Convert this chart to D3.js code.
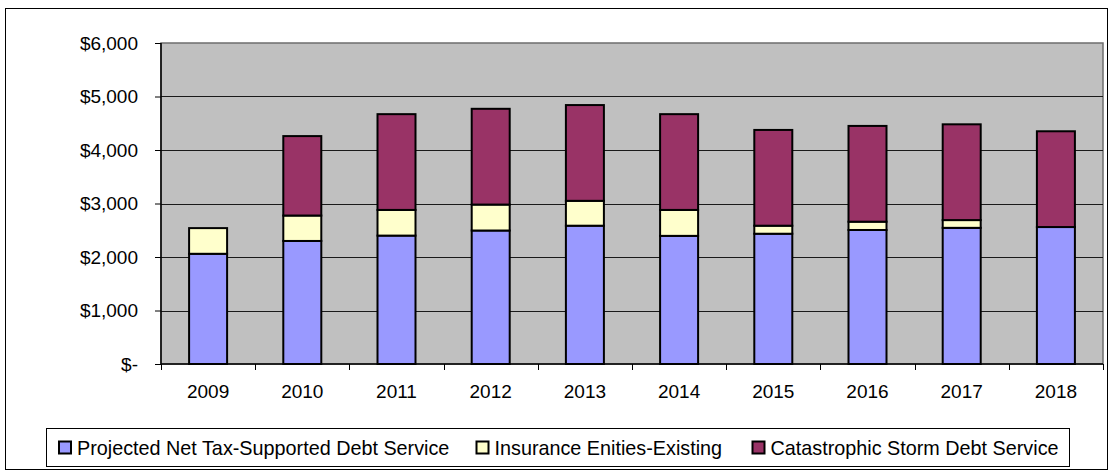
<!DOCTYPE html>
<html>
<head>
<meta charset="utf-8">
<script src="https://cdn.jsdelivr.net/npm/d3@7"></script>
<style>
	body { margin: 0; background: #fff; }
	svg { display: block; font-family: Arial, "Liberation Sans", sans-serif; }
</style>
</head>
<body>
<svg id="chart" width="1110" height="472"></svg>
<script>
'use strict'
var years = ['2009','2010','2011','2012','2013','2014','2015','2016','2017','2018'];
var netTaxSupported = [2060, 2300, 2400, 2495, 2585, 2395, 2435, 2505, 2545, 2560];
var insuranceEntities = [480, 475, 480, 485, 465, 485, 150, 155, 145, 0];
var stormDebt = [0, 1485, 1790, 1790, 1790, 1790, 1790, 1790, 1790, 1790];
var seriesNames = ['Projected Net Tax-Supported Debt Service', 'Insurance Enities-Existing', 'Catastrophic Storm Debt Service'];
var seriesColors = ['#9999FF', '#FFFFCC', '#993366'];
var yTicks = [0, 1000, 2000, 3000, 4000, 5000, 6000];

var svg = d3.select('#chart');
var margin = {top: 43, right: 7, bottom: 108, left: 161};
var width = 1110 - margin.left - margin.right;
var height = 472 - margin.top - margin.bottom;

// outer frame
svg.append('rect')
	.attr('x', 5.5).attr('y', 8.5)
	.attr('width', 1102).attr('height', 461)
	.attr('fill', '#fff')
	.attr('stroke', '#000')
	.attr('stroke-width', 1);

var rows = years.map(function(y, i){
	return {year: y, s0: netTaxSupported[i], s1: insuranceEntities[i], s2: stormDebt[i]};
});
var stack = d3.stack().keys(['s0','s1','s2']);
var layers = stack(rows);

var x = d3.scaleBand().domain(years).range([0, width]);
var y = d3.scaleLinear().domain([0, 6000]).range([height, 0]);

var g = svg.append('g').attr('transform', 'translate(' + margin.left + ',' + margin.top + ')');

// plot area
g.append('rect')
	.attr('width', width).attr('height', height)
	.attr('fill', '#C0C0C0')
	.attr('stroke', '#6e6e6e')
	.attr('stroke-width', 1.5);

g.append('g').attr('class', 'grid')
	.selectAll('line')
	.data(yTicks.filter(function(d){ return d > 0 && d < 6000; }))
	.enter().append('line')
	.attr('x1', 0).attr('x2', width)
	.attr('y1', function(d){ return Math.round(y(d)) + 0.5; })
	.attr('y2', function(d){ return Math.round(y(d)) + 0.5; })
	.attr('stroke', '#1a1a1a')
	.attr('stroke-width', 1);

var barW = 38;
g.selectAll('g.layer')
	.data(layers)
	.enter().append('g')
	.attr('class', 'layer')
	.attr('fill', function(d, i){ return seriesColors[i]; })
	.selectAll('rect')
	.data(function(d){ return d.filter(function(p){ return p[1] - p[0] > 0; }); })
	.enter().append('rect')
	.attr('x', function(d){ return x(d.data.year) + x.bandwidth() / 2 - barW / 2; })
	.attr('y', function(d){ return y(d[1]); })
	.attr('width', barW)
	.attr('height', function(d){ return y(d[0]) - y(d[1]); })
	.attr('stroke', '#000')
	.attr('stroke-width', 2);

// y axis
var yAxis = d3.axisLeft(y)
	.tickValues(yTicks)
	.tickSize(6)
	.tickPadding(17)
	.tickFormat(function(d){ return d === 0 ? '$-' : '$' + d3.format(',')(d); });
var ya = g.append('g').call(yAxis);
ya.select('.domain').attr('stroke', '#000').attr('stroke-width', 1.5).attr('d', 'M0,' + height + 'V0');
ya.selectAll('.tick line').attr('stroke', '#000');
ya.selectAll('text').attr('fill', '#000').style('font-size', '19px').style('font-family', 'Arial, "Liberation Sans", sans-serif');

// x axis
var xa = g.append('g').attr('transform', 'translate(0,' + height + ')');
xa.append('line')
	.attr('x1', 0).attr('x2', width)
	.attr('stroke', '#000').attr('stroke-width', 1.5);
xa.selectAll('line.tk')
	.data(d3.range(years.length + 1))
	.enter().append('line')
	.attr('class', 'tk')
	.attr('x1', function(i){ return Math.round(i * x.step()) + 0.5; })
	.attr('x2', function(i){ return Math.round(i * x.step()) + 0.5; })
	.attr('y1', 0).attr('y2', 6)
	.attr('stroke', '#000');
xa.selectAll('text')
	.data(years)
	.enter().append('text')
	.attr('x', function(d){ return x(d) + x.bandwidth() / 2; })
	.attr('y', 34)
	.attr('text-anchor', 'middle')
	.style('font-size', '19px')
	.text(function(d){ return d; });

// legend
var lg = svg.append('g').attr('transform', 'translate(46.5,428.5)');
lg.append('rect')
	.attr('width', 1023).attr('height', 38)
	.attr('fill', '#fff')
	.attr('stroke', '#000');
var legendX = [12.5, 430, 706];
var items = lg.selectAll('g.item')
	.data(seriesNames)
	.enter().append('g')
	.attr('class', 'item')
	.attr('transform', function(d, i){ return 'translate(' + legendX[i] + ',0)'; });
items.append('rect')
	.attr('x', 0).attr('y', 13)
	.attr('width', 12).attr('height', 12)
	.attr('fill', function(d, i){ return seriesColors[i]; })
	.attr('stroke', '#000')
	.attr('stroke-width', 2);
items.append('text')
	.attr('x', 18).attr('y', 26)
	.style('font-size', '19.8px')
	.text(function(d){ return d; });
</script>
</body>
</html>
